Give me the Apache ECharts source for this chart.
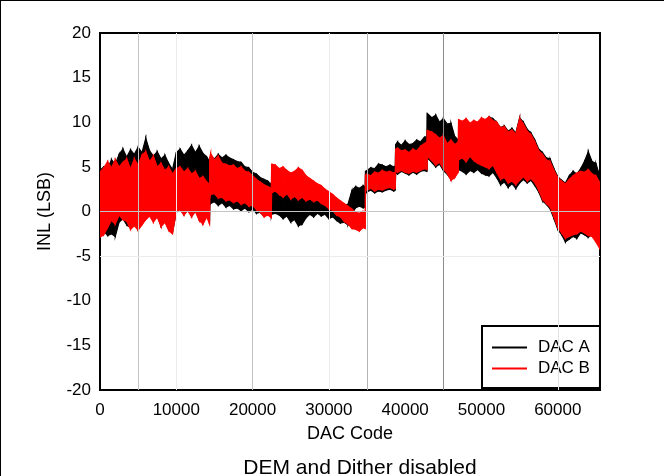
<!DOCTYPE html>
<html>
<head>
<meta charset="utf-8">
<script src="https://cdn.jsdelivr.net/npm/echarts@6/dist/echarts.min.js"></script>
<style>
  html, body { margin: 0; padding: 0; background: #fff; }
  #chart { width: 664px; height: 476px; }
</style>
</head>
<body>
<div id="chart"></div>
<script>
// INL envelope (LSB) at sampled codes: upper/lower extent of each DAC's noisy trace.
// Pairs of close codes mark the abrupt steps at major-carry transitions.
const codes = [
  0, 500, 1000, 1500, 2000, 2500, 3000, 3500, 4000, 4500,
  5000, 5500, 6000, 6500, 7000, 7500, 8000, 8500, 9000, 9500,
  10000, 10500, 11000, 11500, 12000, 12500, 13000, 13500, 14000, 14350,
  14400, 14500, 15000, 15500, 16000, 16500, 17000, 17500, 18000, 18500,
  19000, 19500, 20000, 20500, 21000, 21500, 22000, 22450, 22500, 23000,
  23500, 24000, 24500, 25000, 25500, 26000, 26500, 27000, 27500, 28000,
  28500, 29000, 29500, 30000, 30500, 31000, 31500, 32000, 32500, 33000,
  33500, 34000, 34500, 34750, 34800, 35000, 35500, 36000, 36500, 37000,
  37500, 38000, 38500, 38700, 38750, 39000, 39500, 40000, 40500, 41000,
  41500, 42000, 42500, 42850, 42900, 43500, 44000, 44500, 45000, 45500,
  46000, 46500, 46950, 47000, 47500, 48000, 48500, 49000, 49500, 50000,
  50500, 51000, 51500, 52000, 52500, 53000, 53500, 54000, 54500, 55000,
  55500, 56000, 56500, 57000, 57500, 58000, 58500, 59000, 59500, 60000,
  60500, 61000, 61500, 62000, 62500, 63000, 63500, 64000, 64500, 65000,
  65535];

const dacAHigh = [
  4.6, 5.0, 4.8, 5.8, 5.3, 6.4, 7.0, 6.1, 6.9, 6.4,
  7.2, 6.6, 8.2, 6.8, 6.2, 6.7, 5.9, 6.3, 5.4, 4.7,
  6.6, 7.0, 6.3, 6.8, 7.4, 6.6, 7.3, 6.5, 6.1, 5.6,
  5.6, 6.2, 5.9, 6.4, 6.0, 6.3, 6.0, 5.8, 5.6, 5.5,
  5.0, 4.9, 4.4, 4.2, 3.8, 3.6, 3.4, 3.0, 2.9, 2.6,
  2.3, 2.5, 2.1, 2.2, 2.4, 2.3, 2.6, 2.2, 2.5, 2.4,
  2.0, 2.1, 1.7, 1.5, 1.2, 1.0, 0.9, 0.7, 0.8, 2.3,
  2.8, 2.6, 2.9, 2.7, 4.5, 4.6, 4.9, 4.8, 5.3, 5.2,
  5.0, 5.2, 5.0, 5.1, 7.5, 7.8, 7.4, 7.9, 7.5, 7.6,
  8.0, 7.8, 8.3, 8.4, 11.0, 10.5, 10.8, 10.0, 10.4, 9.8,
  9.9, 8.4, 8.0, 8.0, 8.2, 8.0, 7.6, 8.5, 9.3, 9.6,
  10.2, 10.6, 10.4, 10.0, 9.4, 9.6, 9.0, 9.3, 8.8, 10.5,
  10.0, 9.2, 8.8, 8.0, 7.0, 6.6, 6.0, 5.9, 4.8, 3.9,
  3.5, 3.2, 4.0, 4.5, 4.2, 4.8, 5.6, 6.7, 5.6, 5.4,
  3.9];
const dacALow = [
  -2.5, -2.2, -2.7, -2.5, -2.8, -1.2, -0.8, -1.5, -1.8, -1.2,
  -2.0, -1.4, -0.8, -0.3, -1.0, -0.5, -1.6, -1.0, -2.0, -2.3,
  -0.1, 0.3, -0.3, 0.2, -0.5, 0.1, -0.9, -1.3, -0.4, -1.2,
  0.8, 0.9, 1.1, 0.7, 1.0, 0.5, 0.7, 0.3, 0.4, 0.1,
  0.4, 0.0, 0.3, -0.2, -0.1, -0.5, -0.3, -0.5, -0.3, -0.2,
  -0.4, -0.8, -0.5, -1.2, -0.9, -1.6, -1.4, -0.7, -0.3, -0.6,
  -0.2, -0.5, -0.3, -0.8, -0.6, -1.0, -1.3, -1.2, -1.5, -0.3,
  0.4, 0.6, 0.4, 0.5, 2.0, 2.2, 2.4, 2.1, 2.3, 2.2,
  2.4, 2.5, 2.3, 2.4, 4.3, 4.2, 4.5, 4.3, 4.1, 4.4,
  4.2, 4.5, 4.6, 4.5, 6.0, 5.5, 5.0, 5.3, 4.6, 4.2,
  3.6, 4.0, 4.6, 4.7, 4.5, 4.2, 4.6, 4.4, 4.7, 4.3,
  4.1, 4.0, 4.4, 3.8, 3.0, 3.3, 2.7, 3.1, 2.6, 3.2,
  3.6, 3.2, 3.5, 2.9, 2.2, 1.2, 0.8, 0.3, -0.8, -2.0,
  -2.6, -3.4, -3.1, -2.8, -3.0, -2.4, -2.6, -2.9, -2.5, -3.0,
  -3.6];

const dacBHigh = [
  4.4, 4.9, 5.6, 4.9, 5.8, 5.0, 5.5, 5.9, 4.8, 5.9,
  5.2, 6.3, 6.7, 5.6, 6.2, 5.0, 5.4, 4.6, 5.0, 4.2,
  4.8, 5.0, 4.4, 4.8, 4.2, 4.5, 3.7, 3.9, 3.3, 3.0,
  6.1, 6.5, 5.8, 6.2, 5.4, 5.3, 5.1, 5.2, 4.8, 5.0,
  4.5, 4.4, 4.0, 3.6, 3.3, 3.0, 2.8, 2.6, 5.3, 5.2,
  4.8, 5.0, 4.6, 4.3, 4.5, 4.9, 4.6, 4.0, 3.7, 3.4,
  3.1, 2.9, 2.5, 2.2, 1.9, 1.5, 1.2, 0.9, 0.6, 0.3,
  -0.1, -0.2, 0.0, -0.2, 4.1, 4.2, 4.0, 4.4, 4.3, 4.6,
  4.4, 4.5, 4.3, 4.4, 7.0, 7.1, 6.8, 6.9, 6.6, 7.0,
  6.8, 7.3, 7.6, 7.8, 9.1, 8.9, 8.6, 8.2, 8.5, 7.6,
  8.0, 7.5, 7.8, 10.3, 10.1, 10.4, 9.9, 10.2, 10.0, 10.5,
  10.3, 10.6, 10.2, 10.0, 9.4, 9.5, 8.9, 9.1, 8.7, 10.4,
  9.8, 9.0, 8.6, 7.8, 6.8, 6.4, 5.8, 5.6, 4.6, 3.8,
  3.4, 3.1, 3.6, 4.0, 4.3, 4.5, 4.4, 4.7, 4.2, 4.0,
  3.2];
const dacBLow = [
  -2.9, -2.6, -1.8, -1.0, -1.4, -0.4, -0.9, -1.1, -2.0, -1.6,
  -2.1, -1.5, -0.9, -0.5, -1.2, -0.6, -1.7, -1.2, -2.1, -2.5,
  0.0, 0.2, -0.4, 0.1, -0.6, 0.0, -1.0, -1.4, -0.6, -1.4,
  1.6, 1.9, 2.0, 1.5, 1.6, 1.2, 1.3, 1.0, 1.2, 0.8,
  1.0, 0.6, 0.7, 0.2, -0.1, -0.6, -0.4, -0.7, 2.1, 2.3,
  1.9, 1.6, 2.0, 1.4, 1.7, 1.3, 1.6, 1.2, 1.4, 1.1,
  1.3, 0.9, 0.7, 0.3, 0.1, -0.4, -0.6, -1.1, -1.4, -1.9,
  -2.0, -2.2, -1.8, -1.9, 2.3, 2.4, 2.6, 2.3, 2.5, 2.4,
  2.6, 2.7, 2.5, 2.6, 4.5, 4.4, 4.6, 4.4, 4.3, 4.5,
  4.4, 4.6, 4.8, 4.7, 6.2, 5.7, 5.2, 5.5, 4.8, 4.3,
  3.5, 3.8, 4.4, 5.8, 6.0, 5.6, 6.2, 5.7, 5.4, 5.2,
  5.0, 4.8, 5.2, 4.4, 3.6, 3.8, 3.2, 3.4, 3.0, 3.5,
  3.9, 3.4, 3.7, 3.2, 2.4, 1.4, 0.9, 0.5, -0.6, -1.8,
  -2.4, -3.0, -2.8, -2.6, -2.5, -2.2, -2.4, -2.7, -2.8, -3.4,
  -4.2];

const xTicks = { min: 0, max: 65536, step: 10000 };
const yTicks = { min: -20, max: 20, step: 5 };

// reference grid lines drawn on the plot
const xGridLines = [
  { code: 5000, color: '#c4c4c4' },
  { code: 10000, color: '#ececec' },
  { code: 20000, color: '#c4c4c4' },
  { code: 30000, color: '#ececec' },
  { code: 35000, color: '#b4b4b4' },
  { code: 45000, color: '#8c8c8c' },
  { code: 60000, color: '#e2e2e2' }
];
const yGridLines = [
  { inl: 0, color: '#c4c4c4' },
  { inl: -5, color: '#ececec' }
];

// one item per segment between neighbouring samples: [c0, lo0, hi0, c1, lo1, hi1]
function segments(low, high) {
  const out = [];
  for (let i = 0; i < codes.length - 1; i++) {
    out.push([codes[i], low[i], high[i], codes[i + 1], low[i + 1], high[i + 1]]);
  }
  return out;
}

function renderBand(params, api) {
  const p0h = api.coord([api.value(0), api.value(2)]);
  const p1h = api.coord([api.value(3), api.value(5)]);
  const p1l = api.coord([api.value(3), api.value(4)]);
  const p0l = api.coord([api.value(0), api.value(1)]);
  const color = api.visual('color');
  return {
    type: 'polygon',
    shape: { points: [p0h, p1h, p1l, p0l] },
    style: { fill: color, stroke: color, lineWidth: 1.2, lineJoin: 'miter' }
  };
}

const font = "'Liberation Sans', Arial, sans-serif";
const chart = echarts.init(document.getElementById('chart'), null, { renderer: 'canvas' });

const gridMarks = {
  silent: true,
  symbol: ['none', 'none'],
  label: { show: false },
  animation: false,
  data: xGridLines.map(g => ({ xAxis: g.code, lineStyle: { color: g.color, width: 1, type: 'solid' } }))
    .concat(yGridLines.map(g => ({ yAxis: g.inl, lineStyle: { color: g.color, width: 1, type: 'solid' } })))
};

function band(name, low, high, color, z) {
  return {
    name: name, type: 'custom', renderItem: renderBand,
    data: segments(low, high),
    encode: { x: [0, 3], y: [1, 2, 4, 5] },
    itemStyle: { color: color },
    clip: true, z: z
  };
}

chart.setOption({
  animation: false,
  backgroundColor: '#fff',
  grid: { left: 100, right: 64, top: 33, bottom: 86, show: true, borderColor: '#000', borderWidth: 2, backgroundColor: 'transparent' },
  xAxis: {
    type: 'value', min: xTicks.min, max: xTicks.max, interval: xTicks.step,
    name: 'DAC Code', nameLocation: 'middle', nameGap: 35,
    nameTextStyle: { fontFamily: font, fontSize: 18, color: '#000' },
    axisLine: { show: false }, axisTick: { show: false }, splitLine: { show: false },
    axisLabel: { fontFamily: font, fontSize: 17, color: '#000', margin: 12, showMaxLabel: false, formatter: v => String(v) }
  },
  yAxis: {
    type: 'value', min: yTicks.min, max: yTicks.max, interval: yTicks.step,
    name: 'INL (LSB)', nameLocation: 'middle', nameGap: 46, nameRotate: 90,
    nameTextStyle: { fontFamily: font, fontSize: 18, color: '#000' },
    axisLine: { show: false }, axisTick: { show: false }, splitLine: { show: false },
    axisLabel: { fontFamily: font, fontSize: 17, color: '#000', margin: 9 }
  },
  legend: {
    data: [
      { name: 'DAC A', itemStyle: { color: '#000000' } },
      { name: 'DAC B', itemStyle: { color: '#ff0000' } }
    ],
    orient: 'vertical', left: 482, top: 326,
    backgroundColor: '#fff', borderColor: '#000', borderWidth: 2,
    padding: [13, 10, 11, 10], itemGap: 4,
    itemWidth: 35, itemHeight: 2, icon: 'rect',
    textStyle: { fontFamily: font, fontSize: 17, color: '#000', padding: [0, 0, 0, 6] }
  },
  title: {
    text: 'DEM and Dither disabled', left: 355, top: 453, textAlign: 'center',
    textStyle: { fontFamily: font, fontSize: 21, fontWeight: 'normal', color: '#000' }
  },
  graphic: [
    { type: 'line', shape: { x1: 0, y1: 0.5, x2: 664, y2: 0.5 }, style: { stroke: '#000', lineWidth: 1 }, silent: true },
    { type: 'line', shape: { x1: 0.5, y1: 0, x2: 0.5, y2: 476 }, style: { stroke: '#000', lineWidth: 1 }, silent: true }
  ],
  series: [
    {
      name: 'grid', type: 'line', data: [], silent: true,
      markLine: gridMarks, z: 1
    },
    band('DAC A', dacALow, dacAHigh, '#000000', 2),
    band('DAC B', dacBLow, dacBHigh, '#ff0000', 3)
  ]
});
</script>
</body>
</html>
